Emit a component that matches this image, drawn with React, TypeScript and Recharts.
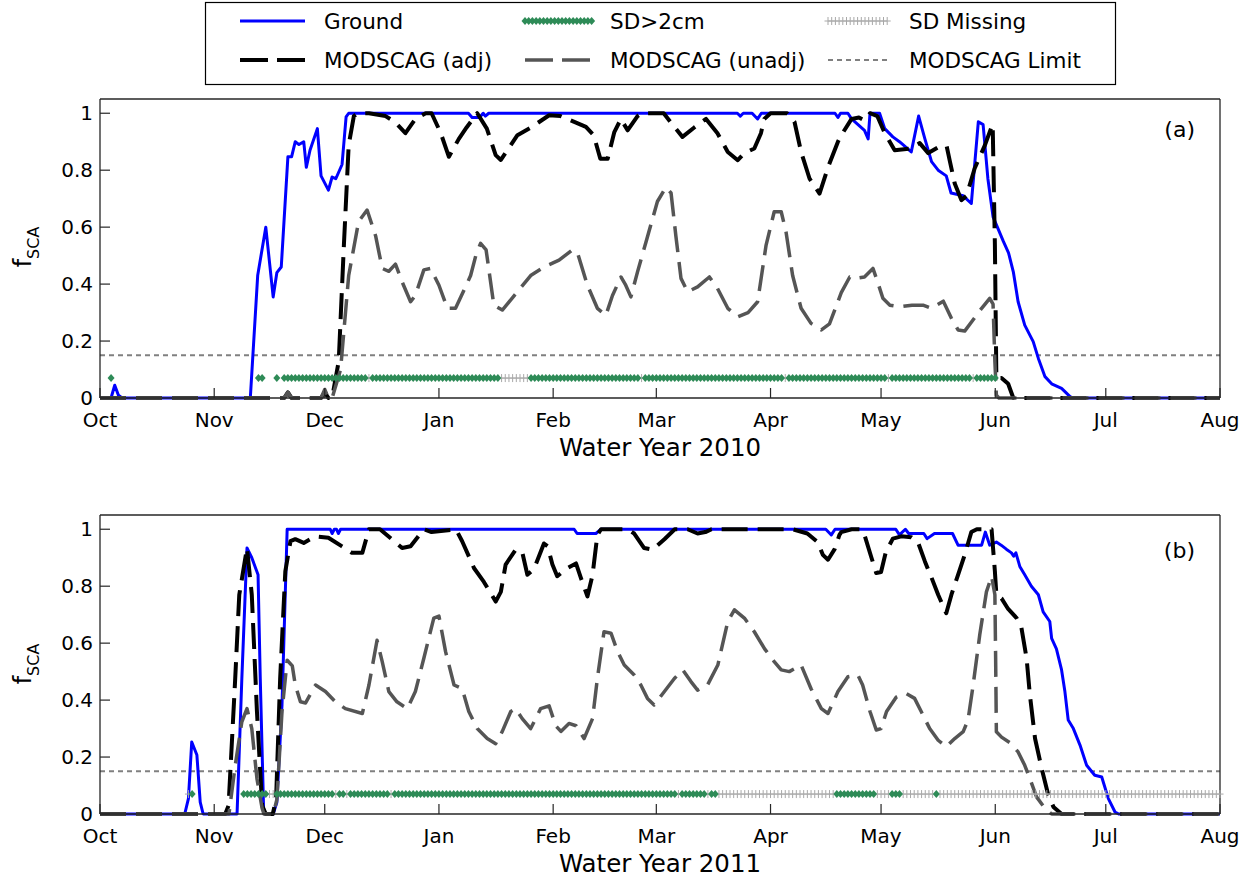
import React from "react";
import {
  ComposedChart,
  Label,
  Line,
  ReferenceLine,
  Scatter,
  XAxis,
  YAxis,
} from "recharts";

// x = days since 1 Oct, y = fractional snow-covered area
const MONTHS = ["Oct", "Nov", "Dec", "Jan", "Feb", "Mar", "Apr", "May", "Jun", "Jul", "Aug"];
const MONTH_DAYS = [0, 31, 61, 92, 123, 151, 182, 212, 243, 273, 304];
const Y_TICKS = [0, 0.2, 0.4, 0.6, 0.8, 1];
const LIMIT = 0.15;
const SD_LEVEL = 0.07;

type Pt = [number, number];

const GROUND_A: Pt[] = [
  [0, 0], [3, 0], [4, 0.045], [5, 0.01], [6, 0], [40.8, 0], [42.8, 0.43], [45, 0.6], [47, 0.355],
  [48, 0.44], [49.2, 0.46], [51, 0.847], [52, 0.847], [53, 0.9], [54, 0.89], [55.3, 0.9], [56, 0.81],
  [57, 0.87], [59, 0.946], [60, 0.78], [62, 0.73], [63, 0.776], [64, 0.77], [65.7, 0.82], [66.8, 0.987],
  [67.5, 1], [100, 1], [101, 0.985], [103, 0.985], [104, 1], [104.6, 0.99], [105.5, 1], [173, 1],
  [173.8, 0.99], [174.6, 1], [177, 1], [178.5, 0.98], [179.5, 1], [199.5, 1], [200.3, 0.985], [201, 1],
  [203, 1], [204, 0.98], [207.5, 0.94], [208.5, 0.91], [209, 1], [211.6, 1], [213, 0.946], [215.2, 0.917],
  [217, 0.9], [220.2, 0.864], [222.2, 0.99], [223.9, 0.91], [225.7, 0.83], [227.5, 0.8], [229.7, 0.78],
  [231, 0.72], [234.3, 0.71], [236.5, 0.683], [238.4, 0.97], [239.7, 0.96], [241, 0.77], [242.4, 0.636],
  [245.2, 0.55], [246.6, 0.51], [247.9, 0.443], [249.2, 0.338], [251, 0.256], [253.3, 0.198],
  [254.7, 0.139], [256.5, 0.075], [258.3, 0.05], [261, 0.034], [263.3, 0.005], [264, 0], [304, 0],
];

const ADJ_A: Pt[] = [
  [0, 0], [50, 0], [51, 0.02], [52, 0], [60, 0], [61, 0.02], [62, 0], [63, 0], [64.8, 0.13], [66.2, 0.537],
  [67.5, 0.888], [68.9, 0.99], [70, 1], [73, 1], [77.5, 0.99], [80, 0.97], [82.9, 0.93], [85.6, 0.98],
  [88.4, 1], [90, 1], [92.5, 0.93], [94.7, 0.847], [97.4, 0.91], [99.5, 0.95], [102.4, 1], [105, 0.946],
  [107.4, 0.853], [108.8, 0.836], [113.3, 0.923], [117, 0.95], [121.9, 0.993], [125, 0.99], [131.9, 0.952],
  [134, 0.923], [135.8, 0.84], [137.8, 0.84], [139.6, 0.934], [141.4, 0.98], [143.2, 0.94], [145.9, 0.99],
  [147, 1], [153, 1], [155.9, 0.952], [158.1, 0.917], [161.3, 0.95], [164.5, 0.98], [167.6, 0.93],
  [170.4, 0.864], [173.1, 0.835], [174.9, 0.86], [177.6, 0.876], [179.4, 0.93], [180.3, 0.98], [182, 1],
  [186.5, 1], [188.5, 0.97], [190.3, 0.864], [192.6, 0.77], [195.3, 0.718], [197.6, 0.81], [200.3, 0.9],
  [201.2, 0.923], [204, 0.98], [206, 0.985], [207.5, 0.975], [209, 1], [211, 0.99], [213, 0.93],
  [215.7, 0.87], [219.5, 0.875], [222.5, 0.895], [224.8, 0.86], [227.5, 0.88], [229.8, 0.885],
  [230.7, 0.83], [232, 0.753], [233.8, 0.695], [235.2, 0.71], [237.4, 0.806], [240.2, 0.888], [242, 0.952],
  [242.3, 0.96], [242.9, 0.537], [243.3, 0.07], [244.7, 0.07], [246.5, 0.05], [247.9, 0], [304, 0],
];

const UNADJ_A: Pt[] = [
  [0, 0], [50, 0], [51, 0.02], [52, 0], [60, 0], [61, 0.03], [62, 0], [63, 0], [65.3, 0.1], [67.5, 0.43],
  [70.2, 0.62], [72.5, 0.66], [74.8, 0.57], [76.6, 0.455], [78.4, 0.445], [80.2, 0.47], [82, 0.408],
  [84.3, 0.338], [85.6, 0.36], [87.9, 0.45], [89.7, 0.455], [92, 0.396], [94.3, 0.315], [96.5, 0.315],
  [99.2, 0.39], [100.6, 0.43], [102, 0.5], [103.3, 0.543], [104.8, 0.52], [106.9, 0.326], [109.2, 0.309],
  [113.3, 0.373], [116.9, 0.43], [120.5, 0.46], [124.6, 0.484], [128.2, 0.52], [129.6, 0.51],
  [132.3, 0.396], [135, 0.315], [137.3, 0.29], [139.1, 0.36], [141.4, 0.425], [142.7, 0.396],
  [144.1, 0.355], [145.9, 0.443], [148.2, 0.548], [151.3, 0.69], [153.6, 0.74], [155, 0.72],
  [156.3, 0.57], [157.7, 0.42], [159.5, 0.373], [162.2, 0.39], [165.4, 0.425], [167.6, 0.385],
  [170.4, 0.315], [173.1, 0.285], [175.9, 0.3], [178.5, 0.338], [180.8, 0.537], [183, 0.654],
  [184.9, 0.654], [186.2, 0.584], [188, 0.43], [190.3, 0.315], [193, 0.262], [195.8, 0.239], [198, 0.26],
  [201.2, 0.37], [203.5, 0.425], [205, 0.42], [207.5, 0.425], [209.8, 0.455], [211, 0.41], [212.5, 0.35],
  [214.4, 0.326], [217, 0.32], [220.4, 0.326], [223.4, 0.326], [225.7, 0.315], [228.9, 0.34],
  [231.1, 0.28], [232.9, 0.239], [234.7, 0.235], [237, 0.275], [239.3, 0.315], [241.5, 0.35],
  [242.4, 0.33], [242.9, 0.127], [243.3, 0.01], [244, 0], [304, 0],
];

const GROUND_B: Pt[] = [
  [0, 0], [23, 0], [24, 0.054], [24.9, 0.253], [26.3, 0.207], [27.2, 0.042], [28, 0], [37.2, 0],
  [38.5, 0.476], [39.9, 0.934], [41.2, 0.9], [42.9, 0.84], [43.5, 0.476], [44.4, 0.02], [44.8, 0], [47, 0],
  [48, 0.04], [49.4, 0.383], [50.8, 1], [62.5, 1], [63, 0.985], [63.6, 1], [64.2, 1], [64.7, 0.985],
  [65.3, 1], [128.7, 1], [129.5, 0.985], [134.6, 0.985], [136, 1], [197, 1], [198.5, 0.98], [199.5, 1],
  [216, 1], [217, 0.98], [218.6, 1], [219.5, 0.985], [223.6, 0.985], [224.5, 0.967], [226.5, 0.985],
  [231.4, 0.985], [232.9, 0.944], [239.3, 0.944], [240.3, 0.99], [241.5, 0.944], [243.3, 0.955],
  [244.6, 0.944], [246, 0.93], [247.4, 0.917], [248, 0.905], [248.6, 0.917], [249.7, 0.868], [251, 0.84],
  [252.8, 0.8], [254.7, 0.77], [256, 0.71], [257.8, 0.676], [258.3, 0.617], [259.6, 0.58], [261, 0.506],
  [261.9, 0.43], [262.8, 0.33], [264.2, 0.3], [266, 0.242], [267.8, 0.171], [270, 0.136], [271.9, 0.13],
  [273.7, 0.054], [275.5, 0.007], [276.5, 0], [304, 0],
];

const ADJ_B: Pt[] = [
  [0, 0], [34, 0], [34.9, 0.03], [36.7, 0.476], [37.8, 0.77], [39.9, 0.934], [41.2, 0.77], [42.6, 0.36],
  [44, 0.03], [45, 0], [46.9, 0], [47.8, 0.054], [48.9, 0.476], [50.3, 0.852], [51.7, 0.958], [53, 0.965],
  [55.3, 0.952], [58.5, 0.975], [62, 0.97], [65.7, 0.94], [68.4, 0.917], [71.2, 0.917], [73, 1], [76, 1],
  [82, 0.934], [84.3, 0.94], [87.9, 1], [90, 0.99], [96.6, 1], [98.3, 0.958], [101.5, 0.864],
  [104.2, 0.815], [107.4, 0.746], [108.8, 0.78], [110.1, 0.876], [112.8, 0.928], [114.6, 0.92], [116, 0.84],
  [117.8, 0.86], [120.5, 0.95], [121.5, 0.94], [122.8, 0.876], [124.1, 0.835], [126.9, 0.864],
  [129.2, 0.88], [130.5, 0.83], [132.3, 0.764], [133.7, 0.84], [135, 0.98], [136, 1], [143.2, 1],
  [145, 0.985], [147.7, 0.934], [150, 0.928], [153.2, 0.965], [156, 1], [159.5, 1], [162.2, 0.985],
  [164.3, 0.99], [166, 1], [188, 1], [192, 0.985], [194.8, 0.955], [196.2, 0.91], [197.6, 0.893],
  [199.4, 0.93], [200.7, 0.98], [201.2, 0.99], [204, 1], [206.5, 1], [207.5, 0.98], [209.4, 0.9],
  [210.7, 0.846], [212, 0.85], [213.3, 0.92], [215.2, 0.967], [217.5, 0.975], [220.2, 0.972], [222, 0.955],
  [223.9, 0.887], [225.7, 0.83], [227.5, 0.77], [229.7, 0.705], [231.1, 0.77], [232.9, 0.84],
  [234.7, 0.91], [236.5, 0.99], [238, 1], [242, 1], [242.9, 0.852], [243.3, 0.77], [244.7, 0.757],
  [246.5, 0.72], [248.8, 0.688], [250.1, 0.654], [251.5, 0.547], [252.4, 0.418], [253.8, 0.265],
  [255.6, 0.16], [257.4, 0.066], [258.8, 0.025], [261, 0], [304, 0],
];

const UNADJ_B: Pt[] = [
  [0, 0], [35, 0], [36.7, 0.17], [38.5, 0.324], [39.9, 0.37], [41.2, 0.3], [42.6, 0.124], [44, 0.02],
  [44.5, 0], [47, 0], [48, 0.05], [49.4, 0.36], [50.8, 0.54], [52.2, 0.52], [53, 0.453], [54.4, 0.394],
  [55.8, 0.39], [58.5, 0.453], [61.2, 0.43], [63.9, 0.394], [66.6, 0.37], [71.2, 0.353], [73, 0.453],
  [75.2, 0.61], [76.6, 0.535], [78.4, 0.43], [80.6, 0.394], [83.4, 0.37], [85.6, 0.43], [87.9, 0.547],
  [90.6, 0.688], [92, 0.695], [93.8, 0.57], [96.1, 0.453], [98.3, 0.44], [100.1, 0.36], [102.4, 0.3],
  [105.1, 0.265], [107.4, 0.247], [109.2, 0.29], [111.5, 0.36], [112.8, 0.37], [114.6, 0.335],
  [116.9, 0.3], [119.6, 0.37], [121.9, 0.38], [123.7, 0.31], [125.1, 0.29], [127.3, 0.318], [129.2, 0.31],
  [131.4, 0.265], [133.7, 0.335], [135, 0.476], [136.8, 0.64], [138.7, 0.635], [140.5, 0.57],
  [142.3, 0.523], [145, 0.488], [146.8, 0.453], [148.6, 0.406], [150.4, 0.383], [153.2, 0.43],
  [155.9, 0.476], [158.2, 0.506], [160.4, 0.465], [162.2, 0.435], [164.9, 0.453], [167.7, 0.523],
  [170.4, 0.676], [172.2, 0.717], [174.9, 0.688], [177.6, 0.64], [180.4, 0.58], [183, 0.535],
  [184.9, 0.506], [187.1, 0.5], [190.3, 0.523], [193, 0.44], [195.8, 0.37], [197.6, 0.353], [200.3, 0.43],
  [203, 0.482], [205.7, 0.488], [207, 0.453], [209, 0.36], [210.7, 0.295], [212, 0.3], [213.5, 0.36],
  [216.1, 0.41], [218.8, 0.423], [221.1, 0.406], [222.9, 0.36], [225.2, 0.3], [227.5, 0.259],
  [229.7, 0.236], [232, 0.265], [234.3, 0.289], [235.6, 0.33], [237, 0.453], [238.8, 0.63], [240.6, 0.78],
  [242, 0.835], [242.9, 0.77], [243.1, 0.55], [243.3, 0.289], [244.7, 0.27], [247, 0.25], [249.2, 0.218],
  [251, 0.171], [252.4, 0.124], [254.2, 0.06], [256.5, 0.02], [258.3, 0], [304, 0],
];

// runs of days (inclusive) with snow depth > 2 cm, and with no depth record
const SD_ON_A: Pt[] = [
  [3, 3], [43, 44], [48, 48], [50, 72], [74, 108], [117, 146], [148, 185], [187, 213], [215, 236], [238, 243],
];
const SD_MISSING_A: Pt[] = [[73, 73], [109, 116], [147, 147], [186, 186], [214, 214], [237, 237]];

const SD_ON_B: Pt[] = [
  [25, 25], [39, 45], [48, 63], [65, 66], [68, 78], [80, 156], [158, 164], [166, 167], [200, 210],
  [215, 217], [227, 227],
];
const SD_MISSING_B: Pt[] = [
  [24, 24], [46, 47], [64, 64], [67, 67], [79, 79], [157, 157], [165, 165], [168, 199], [211, 214],
  [218, 226], [228, 304],
];

const FONT = "'DejaVu Sans', 'Liberation Sans', Arial, sans-serif";
const AX = "#262626";
const BLUE = "#0000ff";
const GREEN = "#2e8b57";
const DARK = "#555555";
const MISSING = "#a8a8a8";
const DASH = "26 10";

const toRows = (pts: Pt[]) => pts.map(([d, v]) => ({ d, v }));
const runDays = (runs: Pt[]) =>
  runs.flatMap(([a, b]) => Array.from({ length: b - a + 1 }, (_, i) => ({ d: a + i, v: SD_LEVEL })));

const Diamond = (p: any) => (
  <polygon
    points={`${p.cx},${p.cy - 4} ${p.cx + 3.5},${p.cy} ${p.cx},${p.cy + 4} ${p.cx - 3.5},${p.cy}`}
    fill={GREEN}
  />
);

const Plus = (p: any) => (
  <g stroke={MISSING} strokeWidth={1}>
    <line x1={p.cx} x2={p.cx} y1={p.cy - 4} y2={p.cy + 4} />
    <line x1={p.cx - 3.5} x2={p.cx + 3.5} y1={p.cy} y2={p.cy} />
  </g>
);

// plot box: x 100..1220, y 99..398 inside each panel
const X_AXIS_H = 41;
const Y_AXIS_W = 60;

function Panel({
  top,
  height,
  title,
  ground,
  adj,
  unadj,
  sdOn,
  sdMissing,
}: {
  top: number;
  height: number;
  title: string;
  ground: Pt[];
  adj: Pt[];
  unadj: Pt[];
  sdOn: Pt[];
  sdMissing: Pt[];
}) {
  const tickFont = { fontSize: 20, fill: "#000", fontFamily: FONT };
  const xDomain = [0, 304];
  const yDomain = [0, 1.05];
  return (
    <div style={{ position: "absolute", left: 0, top }}>
      <ComposedChart
        width={1252}
        height={height}
        margin={{ top: 89, right: 22, bottom: height - 398 - X_AXIS_H, left: 100 - Y_AXIS_W }}
        style={{ fontFamily: FONT }}
      >
        <XAxis
          dataKey="d"
          type="number"
          domain={xDomain}
          ticks={MONTH_DAYS}
          interval={0}
          tickFormatter={(d: number) => MONTHS[MONTH_DAYS.indexOf(d)]}
          height={X_AXIS_H}
          tickSize={-10}
          tickMargin={25}
          tickLine={{ stroke: AX, strokeWidth: 1.2 }}
          axisLine={{ stroke: AX, strokeWidth: 1.3 }}
          tick={tickFont}
        >
          <Label
            value={title}
            position="bottom"
            offset={0}
            style={{ fontSize: 24.5, fill: "#000", fontFamily: FONT }}
          />
        </XAxis>
        <XAxis
          xAxisId="top"
          orientation="top"
          type="number"
          dataKey="d"
          domain={xDomain}
          ticks={MONTH_DAYS}
          interval={0}
          height={10}
          tick={false}
          tickSize={-10}
          tickLine={{ stroke: AX, strokeWidth: 1.2 }}
          axisLine={{ stroke: AX, strokeWidth: 1.3 }}
        />
        <YAxis
          type="number"
          domain={yDomain}
          ticks={Y_TICKS}
          interval={0}
          width={Y_AXIS_W}
          tickSize={-10}
          tickMargin={17}
          tickLine={{ stroke: AX, strokeWidth: 1.2 }}
          axisLine={{ stroke: AX, strokeWidth: 1.3 }}
          tick={tickFont}
          tickFormatter={(v: number) => String(v)}
        />
        <YAxis
          yAxisId="right"
          orientation="right"
          type="number"
          domain={yDomain}
          ticks={Y_TICKS}
          interval={0}
          width={10}
          tick={false}
          tickSize={-10}
          tickLine={{ stroke: AX, strokeWidth: 1.2 }}
          axisLine={{ stroke: AX, strokeWidth: 1.3 }}
        />
        <ReferenceLine y={LIMIT} stroke="#808080" strokeWidth={2} strokeDasharray="5 4" />
        <Scatter data={runDays(sdMissing)} dataKey="v" shape={Plus} isAnimationActive={false} />
        <Scatter data={runDays(sdOn)} dataKey="v" shape={Diamond} isAnimationActive={false} />
        <Line
          data={toRows(ground)}
          dataKey="v"
          type="linear"
          stroke={BLUE}
          strokeWidth={3}
          dot={false}
          strokeLinejoin="round"
          isAnimationActive={false}
        />
        <Line
          data={toRows(adj)}
          dataKey="v"
          type="linear"
          stroke="#000"
          strokeWidth={4}
          strokeDasharray={DASH}
          dot={false}
          strokeLinejoin="round"
          isAnimationActive={false}
        />
        <Line
          data={toRows(unadj)}
          dataKey="v"
          type="linear"
          stroke={DARK}
          strokeWidth={3.5}
          strokeDasharray={DASH}
          dot={false}
          strokeLinejoin="round"
          isAnimationActive={false}
        />
      </ComposedChart>
    </div>
  );
}

function LegendBox() {
  const rowY = [21, 60];
  const cols = [
    { x0: 240, x1: 305, tx: 324 },
    { x0: 525, x1: 592, tx: 610 },
    { x0: 828, x1: 888, tx: 909 },
  ];
  const step = 3.7;
  const diamonds = Array.from({ length: Math.floor((cols[1].x1 - cols[1].x0) / step) + 1 }, (_, i) => cols[1].x0 + i * step);
  const pluses = Array.from({ length: Math.floor((cols[2].x1 - cols[2].x0) / step) + 1 }, (_, i) => cols[2].x0 + i * step);
  const text = { fontSize: 21.5, fill: "#000", fontFamily: FONT, dominantBaseline: "central" as const };
  return (
    <g>
      <rect x={205.5} y={2.5} width={910} height={82} fill="#fff" stroke="#000" strokeWidth={1.2} />
      <line x1={cols[0].x0} x2={cols[0].x1} y1={rowY[0]} y2={rowY[0]} stroke={BLUE} strokeWidth={3} />
      <text x={cols[0].tx} y={rowY[0]} style={text}>Ground</text>
      {diamonds.map((x) => (
        <Diamond key={x} cx={x} cy={rowY[0]} />
      ))}
      <text x={cols[1].tx} y={rowY[0]} style={text}>SD&gt;2cm</text>
      {pluses.map((x) => (
        <Plus key={x} cx={x} cy={rowY[0]} />
      ))}
      <text x={cols[2].tx} y={rowY[0]} style={text}>SD Missing</text>

      <line x1={cols[0].x0} x2={cols[0].x1} y1={rowY[1]} y2={rowY[1]} stroke="#000" strokeWidth={4} strokeDasharray="28 9" />
      <text x={cols[0].tx} y={rowY[1]} style={text}>MODSCAG (adj)</text>
      <line x1={cols[1].x0} x2={cols[1].x1} y1={rowY[1]} y2={rowY[1]} stroke={DARK} strokeWidth={3.5} strokeDasharray="28 9" />
      <text x={cols[1].tx} y={rowY[1]} style={text}>MODSCAG (unadj)</text>
      <line x1={cols[2].x0} x2={cols[2].x1} y1={rowY[1]} y2={rowY[1]} stroke="#808080" strokeWidth={2} strokeDasharray="5 4" />
      <text x={cols[2].tx} y={rowY[1]} style={text}>MODSCAG Limit</text>
    </g>
  );
}

function YTitle({ cy }: { cy: number }) {
  return (
    <text transform={`translate(31,${cy}) rotate(-90)`} textAnchor="middle" fontFamily={FONT} fill="#000">
      <tspan fontSize={24}>f</tspan>
      <tspan fontSize={16} dy={8}>SCA</tspan>
    </text>
  );
}

export default function App() {
  return (
    <div
      style={{
        position: "absolute",
        left: 0,
        top: 0,
        width: 1252,
        height: 884,
        overflow: "hidden",
        background: "#fff",
        fontFamily: FONT,
      }}
    >
      <Panel
        top={0}
        height={470}
        title="Water Year 2010"
        ground={GROUND_A}
        adj={ADJ_A}
        unadj={UNADJ_A}
        sdOn={SD_ON_A}
        sdMissing={SD_MISSING_A}
      />
      <Panel
        top={416}
        height={468}
        title="Water Year 2011"
        ground={GROUND_B}
        adj={ADJ_B}
        unadj={UNADJ_B}
        sdOn={SD_ON_B}
        sdMissing={SD_MISSING_B}
      />
      <svg
        width={1252}
        height={884}
        style={{ position: "absolute", left: 0, top: 0, pointerEvents: "none" }}
      >
        <LegendBox />
        <YTitle cy={247} />
        <YTitle cy={664} />
        <text x={1195} y={137} textAnchor="end" fontSize={22} fontFamily={FONT} fill="#000">(a)</text>
        <text x={1195} y={558} textAnchor="end" fontSize={22} fontFamily={FONT} fill="#000">(b)</text>
      </svg>
    </div>
  );
}
